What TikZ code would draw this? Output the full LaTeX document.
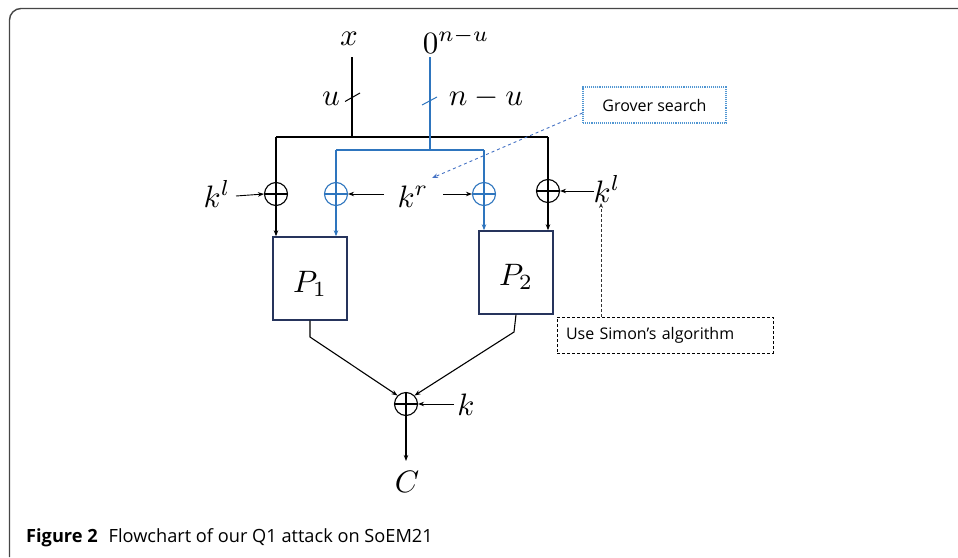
\documentclass[tikz,border=0pt]{standalone}
\usepackage{fontspec}
\newfontfamily\capfont{Open Sans}
\usetikzlibrary{arrows.meta}
\definecolor{qblue}{RGB}{46,117,190}
\definecolor{dashblue}{RGB}{68,114,196}
\definecolor{dotblue}{RGB}{80,150,210}
\definecolor{boxnavy}{RGB}{38,52,92}
\definecolor{framegray}{RGB}{70,70,70}
\tikzset{
  wire/.style={line width=1.1pt,-{Stealth[length=6pt,width=4.5pt]}},
  plainwire/.style={line width=1.1pt},
  bluewire/.style={line width=1.2pt,draw=qblue},
  xor/.style={circle,draw,line width=1.1pt,minimum size=23pt,inner sep=0pt,
    path picture={\draw[line width=1.1pt] (path picture bounding box.north) -- (path picture bounding box.south)
      (path picture bounding box.west) -- (path picture bounding box.east);}},
  bluexor/.style={xor,draw=qblue,path picture={\draw[line width=1.1pt,qblue] (path picture bounding box.north) -- (path picture bounding box.south)
      (path picture bounding box.west) -- (path picture bounding box.east);}},
  perm/.style={draw=boxnavy,line width=1.4pt,minimum width=74pt,minimum height=83pt,inner sep=0pt},
  mlabel/.style={inner sep=0pt,anchor=base,font=\normalsize,scale=3.1},
  note/.style={inner sep=0pt,minimum height=36pt,font=\capfont\fontsize{16}{19}\selectfont},
}
\begin{document}
\begin{tikzpicture}[x=1pt,y=-1pt]
\useasboundingbox (0,0) rectangle (958,557);
% figure frame
\draw[framegray,line width=1.4pt] (9.5,557) -- (9.5,20) arc[start angle=180,end angle=270,radius=11.5] -- (958,8.5);

% inputs
\node[mlabel] (x) at (349,45) {$x$};
\node[mlabel] (zero) at (456,53) {$0^{n-u}$};
\node[mlabel] (u) at (331,105) {$u$};
\node[mlabel] (nu) at (486,105) {$n-u$};

% junctions
\coordinate (xtop) at (352,57);
\coordinate (xj) at (352,137);
\coordinate (bl) at (276,137);
\coordinate (br) at (548,137);
\coordinate (ztop) at (430,57);
\coordinate (zj) at (430,150);
\coordinate (cl) at (336,150);
\coordinate (cr) at (484,150);

% xor gates
\node[xor] (xl) at (276,194) {};
\node[bluexor] (xbl) at (336,194) {};
\node[bluexor] (xbr) at (484,194) {};
\node[xor] (xr) at (548,191) {};
\node[xor] (xo) at (406,404) {};

% key labels
\node[mlabel] (kl) at (217,207) {$k^{l}$};
\node[mlabel] (kr) at (413,207) {$k^{r}$};
\node[mlabel] (kl2) at (607,202) {$k^{l}$};
\node[mlabel] (k) at (466,415) {$k$};
\node[mlabel] (C) at (407,492) {$C$};

% permutations
\node[perm] (P1) at (310,278.5) {};
\node[perm] (P2) at (516,272.5) {};
\node[mlabel] at (310,292) {$P_1$};
\node[mlabel] at (516,285) {$P_2$};

% notes
\node[note,draw=dotblue,densely dotted,line width=1.1pt,minimum width=143pt] (grover) at (654.5,105) {Grover search};
\node[note,draw=black,densely dashed,line width=0.8pt,inner xsep=9pt,text width=198pt,align=left] (simon) at (665,335) {Use Simon’s algorithm};

% x branch
\draw[plainwire] (xtop) -- (xj);
\draw[line width=1pt] (345,101.5) -- (360,93);
\draw[plainwire] (bl) -- (br);
\draw[plainwire] (bl) -- (xl.north);
\draw[plainwire] (br) -- (xr.north);
\draw[wire] (xl.south) -- (xl.south |- P1.north);
\draw[wire] (xr.south) -- (xr.south |- P2.north);

% 0^{n-u} branch
\draw[bluewire] (ztop) -- (zj);
\draw[line width=1pt,qblue] (422,105) -- (437,97);
\draw[bluewire] (cl) -- (cr);
\draw[bluewire] (cl) -- (xbl.north);
\draw[bluewire] (cr) -- (xbr.north);
\draw[bluewire,-{Stealth[length=6pt,width=4.5pt]}] (xbl.south) -- (xbl.south |- P1.north);
\draw[bluewire,-{Stealth[length=6pt,width=4.5pt]}] (xbr.south) -- (xbr.south |- P2.north);

% key inputs
\draw[wire,line width=0.9pt] (236,196) -- (xl.west);
\draw[wire,line width=0.9pt] (384,194) -- (xbl.east);
\draw[wire,line width=0.9pt] (443,194) -- (xbr.west);
\draw[wire,line width=0.9pt] (594,191) -- (xr.east);
\draw[wire,line width=0.9pt] (454,404) -- (xo.east);

% outputs of the permutations
\draw[wire] (P1.south) -- (310,337) -- (xo.north west);
\draw[wire] (P2.south) -- (514,332) -- (xo.north east);
\draw[wire] (xo.south) -- (406,461);

% annotations
\draw[dashblue,dashed,line width=0.9pt,-{Stealth[length=6pt,width=4.5pt]}] (grover.west |- 0,113) -- (432,178);
\draw[black!80,densely dashed,line width=0.8pt,-{Stealth[length=5pt,width=4pt]}] (601,317) -- (601,203);

% caption
\node[anchor=base west,inner sep=0pt,font=\capfont\fontsize{18.2}{21}\selectfont] (cap) at (26,542) {\textbf{Figure 2}\hspace{0.6em}Flowchart of our Q1 attack on SoEM21};
\end{tikzpicture}
\end{document}
